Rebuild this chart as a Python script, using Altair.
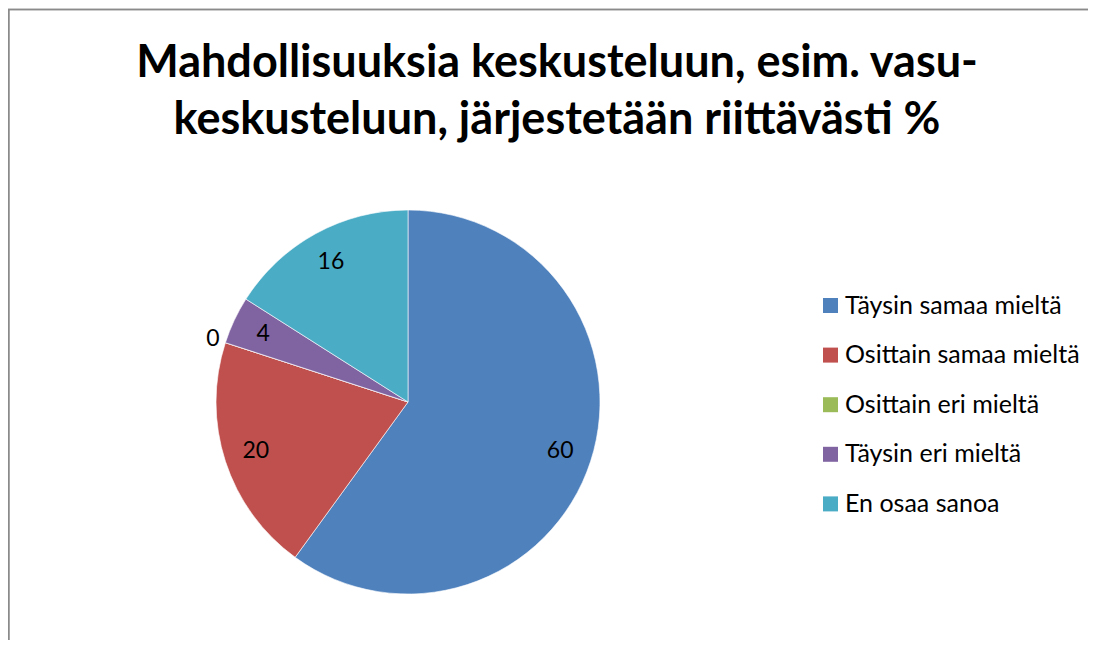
import altair as alt
import pandas as pd

categories = ["Täysin samaa mieltä", "Osittain samaa mieltä", "Osittain eri mieltä",
              "Täysin eri mieltä", "En osaa sanoa"]
values = [60, 20, 0, 4, 16]
colors = ["#4F81BD", "#C0504D", "#9BBB59", "#8064A2", "#4BACC6"]
title_lines = ["Mahdollisuuksia keskusteluun, esim. vasu-",
               "keskusteluun, järjestetään riittävästi %"]

FONT = "Lato"
CX, CY, R = 400, 394, 192
TOTAL = sum(values)

df = pd.DataFrame({"cat": categories, "value": values, "order": list(range(len(values)))})
title_df = pd.DataFrame({"line": title_lines, "i": [0, 1]})

theta_scale = alt.Scale(domain=[0, TOTAL])

arcs = alt.Chart(df).mark_arc(outerRadius=R, stroke="white", strokeWidth=0.6).encode(
    theta=alt.Theta("value:Q", stack=True, scale=theta_scale),
    order=alt.Order("order:Q"),
    x=alt.value(CX),
    y=alt.value(CY),
    color=alt.Color(
        "cat:N",
        sort=categories,
        scale=alt.Scale(domain=categories, range=colors),
        legend=alt.Legend(
            title=None,
            orient="none",
            legendX=810,
            legendY=285,
            symbolType="square",
            symbolSize=225,
            symbolStrokeWidth=0,
            labelFont=FONT,
            labelFontSize=25,
            labelColor="black",
            labelOffset=2,
            rowPadding=23.6,
            padding=0,
            labelLimit=400,
        ),
    ),
)

labels = alt.Chart(df).transform_window(
    cum="sum(value)", sort=[alt.SortField("order")], frame=[None, 0]
).transform_calculate(
    mid="datum.cum - datum.value / 2",
    r="datum.value == 0 ? 205 : 160",
).mark_text(font=FONT, fontSize=23, color="black").encode(
    theta=alt.Theta("mid:Q", stack=None, scale=theta_scale),
    radius=alt.Radius("r:Q", scale=None),
    x=alt.value(CX),
    y=alt.value(CY),
    text=alt.Text("value:Q"),
)

title = alt.Chart(title_df).transform_calculate(
    yy="69 + 57 * datum.i"
).mark_text(font=FONT, fontSize=45, fontWeight="bold", align="center",
            baseline="alphabetic", color="black").encode(
    x=alt.value(549),
    y=alt.Y("yy:Q", scale=None),
    text="line:N",
)

border = alt.Chart(title_df).mark_rect(filled=False, stroke="#8a8a8a", strokeWidth=1.5).encode(
    x=alt.value(0.75), x2=alt.value(1300), y=alt.value(1.5), y2=alt.value(900)
)

chart = alt.layer(border, arcs, labels, title).properties(
    width=1080, height=632, autosize="none", padding=0
).configure_view(strokeWidth=0)

chart.save("out.html", embed_options={"renderer": "svg", "actions": False})
